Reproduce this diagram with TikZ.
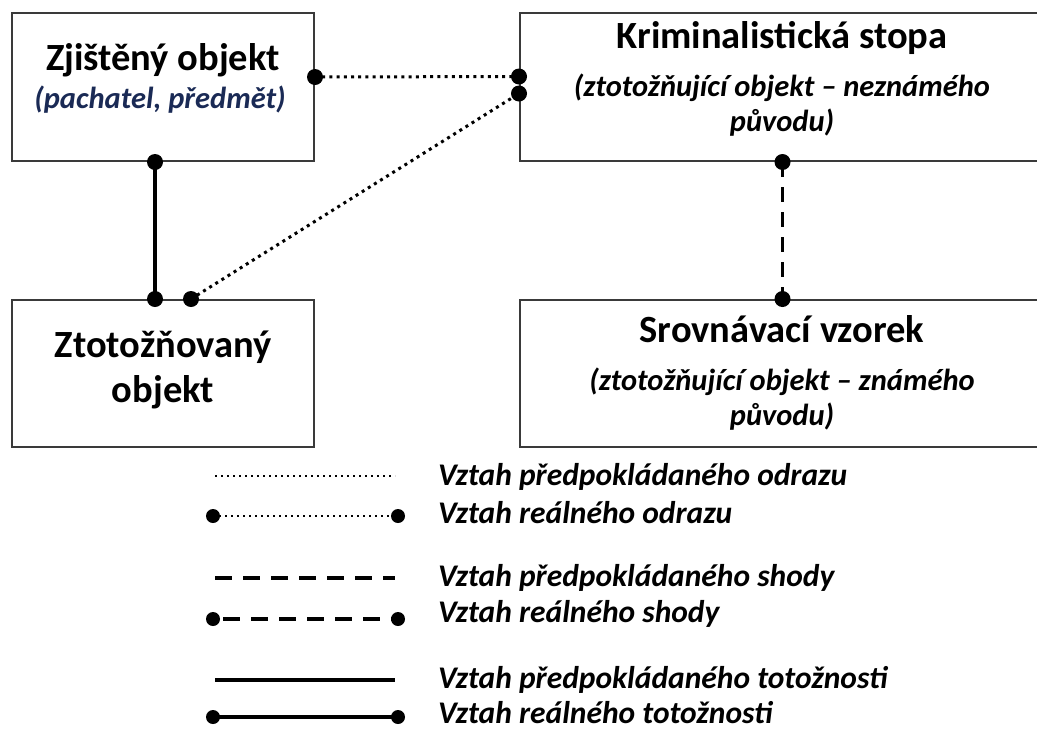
\documentclass[tikz,border=0pt]{standalone}
\usepackage{fontspec}
\setmainfont{Carlito}
\usetikzlibrary{calc}
\definecolor{boxline}{HTML}{3A3A3A}
\definecolor{subblue}{HTML}{1A2A55}
\tikzset{
  x=1pt, y=-1pt,
  box/.style={draw=boxline, line width=2pt, rectangle, inner sep=0pt},
  title/.style={anchor=base, inner sep=0pt, font=\bfseries\fontsize{38.5}{46}\selectfont},
  subtitle/.style={anchor=base, inner sep=0pt, font=\bfseries\itshape\fontsize{30.5}{36}\selectfont},
  legtext/.style={anchor=base west, inner sep=0pt, font=\bfseries\itshape\fontsize{31.5}{37}\selectfont},
  reflect/.style={line width=3pt, dash pattern=on 3pt off 4.2pt},
  legreflect/.style={line width=2.4pt, dash pattern=on 2.4pt off 3.6pt},
  match/.style={line width=3.5pt, dash pattern=on 15pt off 10pt},
  legmatch/.style={line width=4pt, dash pattern=on 17pt off 11pt},
  ident/.style={line width=4pt},
  enddot/.style={circle, fill=black, inner sep=0pt, minimum size=16pt},
}
\begin{document}
\begin{tikzpicture}
\useasboundingbox (0,0) rectangle (1037,729);

% boxes
\node[box, minimum width=302pt, minimum height=148pt] (zo) at (163,87) {};
\node[box, minimum width=525pt, minimum height=148pt] (ks) at (782.5,87) {};
\node[box, minimum width=302pt, minimum height=147pt] (to) at (163,373.5) {};
\node[box, minimum width=525pt, minimum height=147pt] (sv) at (782.5,373.5) {};

% box texts
\node[title] (zoT) at (163,70) {Zjištěný objekt};
\node[subtitle, text=subblue] (zoS) at (160,108) {(pachatel, předmět)};
\node[title] (ksT) at (782,48) {Kriminalistická stopa};
\node[subtitle] (ksS1) at (782,96) {(ztotožňující objekt – neznámého};
\node[subtitle] (ksS2) at (782,131) {původu)};
\node[title] (toT1) at (163,357) {Ztotožňovaný};
\node[title] (toT2) at (163,402) {objekt};
\node[title] (svT) at (782,342) {Srovnávací vzorek};
\node[subtitle] (svS1) at (782,390) {(ztotožňující objekt – známého};
\node[subtitle] (svS2) at (782,425) {původu)};

% connection points on the box edges
\coordinate (zoR) at ([yshift=10pt]zo.east);
\coordinate (zoB) at ([xshift=-8pt]zo.south);
\coordinate (ksL1) at ([yshift=10.5pt]ks.west);
\coordinate (ksL2) at ([yshift=-6.5pt]ks.west);
\coordinate (ksB) at (ks.south);
\coordinate (toA) at ([xshift=-8pt]to.north);
\coordinate (toB) at ([xshift=28pt]to.north);
\coordinate (svA) at (sv.north);

% connectors
\draw[reflect] (zoR) -- (ksL1);
\draw[reflect] (toB) -- (ksL2);
\draw[ident] (zoB) -- (toA);
\draw[match] (ksB) -- (svA);
\foreach \p in {zoR,zoB,ksL1,ksL2,ksB,toA,toB,svA}
  \node[enddot] at (\p) {};

% legend
\coordinate (l1a) at (215,476); \coordinate (l1b) at (395,476);
\coordinate (l2a) at (213,516); \coordinate (l2b) at (398,516);
\coordinate (l3a) at (215,578); \coordinate (l3b) at (395,578);
\coordinate (l4a) at (213,619); \coordinate (l4b) at (398,619);
\coordinate (l5a) at (215,680); \coordinate (l5b) at (395,680);
\coordinate (l6a) at (213,717); \coordinate (l6b) at (398,717);

\draw[legreflect] (l1a) -- (l1b);
\draw[legreflect] (l2a) -- (l2b);
\draw[legmatch] (l3a) -- (l3b);
\draw[legmatch] ([xshift=10pt]l4a) -- (l4b);
\draw[ident] (l5a) -- (l5b);
\draw[ident] (l6a) -- (l6b);
\foreach \p in {l2a,l2b,l4a,l4b,l6a,l6b}
  \node[enddot, minimum size=14pt] at (\p) {};

\node[legtext] (t1) at (438,485) {Vztah předpokládaného odrazu};
\node[legtext] (t2) at (438,523) {Vztah reálného odrazu};
\node[legtext] (t3) at (438,586) {Vztah předpokládaného shody};
\node[legtext] (t4) at (438,622) {Vztah reálného shody};
\node[legtext] (t5) at (438,688) {Vztah předpokládaného totožnosti};
\node[legtext] (t6) at (438,723) {Vztah reálného totožnosti};
\end{tikzpicture}
\end{document}
